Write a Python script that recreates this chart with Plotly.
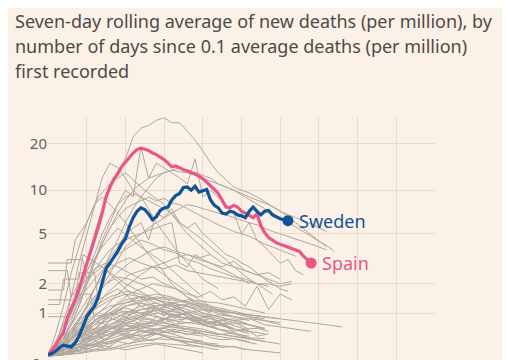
import math
import plotly.graph_objects as go

# ---------------- data (values in deaths per million, 7-day avg) ----------------
# Highlighted countries: one value per day since 0.1 deaths/million first recorded
spain = [0.12, 0.2, 0.28, 0.4, 0.52, 0.87, 1.1, 1.4, 1.8, 2.3, 3.0, 3.7, 4.6, 5.6, 7.0,
         9.0, 10.5, 11.8, 12.8, 14.2, 15.2, 16.3, 17.4, 18.3, 18.7, 18.4, 18.1, 17.4, 17.0,
         16.4, 15.8, 15.0, 14.2, 14.4, 13.9, 13.6, 13.4, 13.0, 12.8, 12.4, 11.9, 11.3, 10.6,
         10.1, 9.5, 8.6, 7.7, 7.6, 7.9, 7.7, 7.2, 7.0, 6.7, 6.5, 6.9, 5.7, 5.1, 4.7, 4.5,
         4.3, 4.2, 4.1, 4.0, 3.9, 3.8, 3.7, 3.4, 3.2, 3.0]
sweden = [0.12, 0.14, 0.18, 0.24, 0.28, 0.27, 0.25, 0.32, 0.45, 0.65, 0.9, 1.05, 1.2, 1.5,
          2.0, 2.7, 3.0, 3.3, 3.7, 4.2, 4.6, 5.6, 6.5, 7.2, 7.6, 7.4, 6.9, 6.3, 6.6, 7.3,
          7.6, 7.7, 8.6, 9.2, 9.5, 10.4, 10.5, 10.0, 10.6, 9.7, 9.9, 10.1, 8.6, 7.9, 7.6,
          7.0, 6.9, 7.2, 7.1, 6.8, 6.7, 6.5, 7.2, 7.7, 7.2, 6.8, 7.2, 7.3, 6.8, 6.6, 6.4,
          6.3, 6.2]

# Other countries, sampled every 2 days
g_a = [0.1, 0.3, 0.6, 1.0, 1.8, 3, 5, 7.5, 10, 13, 16, 22, 25, 26, 28, 29, 27, 27, 24, 21,
       18, 15, 13, 11.6, 10.5, 10, 9.6, 9, 8.4, 7.7, 7.2, 6.6, 6.0, 5.4, 4.9, 4.4, 4.0]
g_b = [0.1, 0.2, 0.4, 0.7, 1.2, 2, 3, 4.5, 6, 8, 10, 9, 19, 12, 15, 14, 13, 12, 11, 16, 9,
       10, 9, 8, 7, 5, 6, 4.5, 4, 3.5, 3, 3.2, 2.6, 2.4]
g_c = [0.1, 0.2, 0.4, 0.7, 1.2, 2, 3, 4.2, 5.5, 7, 8.5, 10, 11, 12, 12.5, 13, 13.5, 13.2,
       13, 12.5, 12, 11.5, 11, 10.5, 10, 9.3, 8.7, 8, 7.5, 7, 6.5, 6.1, 5.6, 5.2, 4.8, 4.4,
       4.1, 3.7]
g_d = [0.1, 0.15, 0.3, 0.5, 0.8, 1.2, 1.8, 2.5, 3.5, 4.5, 6, 7.5, 9, 10.5, 12, 13, 13.5, 14,
       13.5, 13, 12.5, 12, 11, 10.5, 10, 9.5, 9, 8.6, 8.2, 7.8, 7.2, 6.8, 6.5, 6.2, 5.9, 5.5,
       5.2]
g_e = [0.1, 0.3, 0.6, 1.0, 1.6, 2.5, 3.5, 5, 6.5, 8, 9, 9.5, 9, 8.5, 8, 7.5, 7, 6, 5.5, 5,
       4.5, 4, 3.6, 3.2, 2.8, 2.5, 2.2, 2, 1.8, 1.6]
g_f = [0.1, 0.2, 0.3, 0.5, 0.8, 1.2, 1.8, 2.5, 3.3, 4, 5, 5.5, 6, 4.5, 7, 6.5, 7.5, 6, 5.5,
       6, 5, 4.5, 4, 3.5, 3.3, 3, 2.8, 2.5, 2.2, 2, 1.8, 1.7]
g_g = [0.1, 0.3, 0.6, 1, 1.5, 2, 2.6, 3.2, 3.8, 4.2, 4.5, 4.8, 5, 5.3, 5.5, 5.8, 6, 3, 2.8,
       3.5, 3.2, 3, 2.8, 2.6, 2.4, 2.2, 2]
g_h = [0.1, 0.5, 1.2, 2.5, 4, 6, 8, 9, 8, 7, 6, 5, 4.2, 3.5, 3, 2.5, 2, 1.7, 1.5, 1.3, 1.1,
       1.0]
g_i = [0.1, 0.3, 0.8, 1.5, 3, 5, 8, 12, 15, 14, 12, 10, 9, 7.5, 6, 5, 4.2, 3.5, 3, 2.6, 2.2,
       2, 1.8]
g_j = [0.1, 0.2, 0.4, 0.8, 1.4, 2.2, 3.2, 4.2, 5.5, 6.5, 7.5, 8, 8.5, 9, 8.5, 8.8, 8.2, 8,
       7.5, 7, 6.6, 6.2, 5.8, 5.5, 5.2, 5, 4.8, 4.5, 4.2, 4, 3.8, 3.6, 3.4]
g_k = [0.1, 0.2, 0.3, 0.5, 0.7, 1, 1.4, 1.9, 2.5, 3.2, 4, 4.5, 5, 5.5, 6, 6.5, 7, 7.5, 8,
       7.8, 7.5, 7.2, 7, 6.8, 6.5, 6.2, 6, 5.8, 5.5, 5.2, 5, 4.8, 4.6, 4.4, 4.2, 4.0, 3.8]

# Other countries, sampled every 3 days
m_1 = [0.1, 0.2, 0.4, 0.7, 1.1, 1.6, 2.0, 2.4, 2.6, 2.8, 2.7, 2.9, 2.6, 2.5, 2.4, 2.3, 2.2,
       2.1, 2.0, 2.0, 1.9, 2.0]
m_2 = [0.1, 0.3, 0.7, 1.2, 1.8, 2.5, 3.0, 3.3, 3.0, 2.8, 2.4, 2.0, 1.7, 1.4, 1.2, 1.0, 0.9]
m_3 = [0.1, 0.2, 0.3, 0.5, 0.8, 1.0, 1.3, 1.6, 1.8, 2.0, 1.9, 1.8, 1.6, 1.5, 1.7, 1.4, 1.5,
       1.2, 1.9, 1.1, 1.6, 1.4]
m_4 = [0.1, 0.4, 0.9, 1.6, 2.2, 2.8, 3.5, 4.0, 4.5, 4.2, 3.8, 3.6, 3.2, 3.0, 2.7, 2.5, 2.3,
       2.2, 2.0, 1.9]
m_5 = [0.1, 0.2, 0.5, 1.0, 1.5, 2.0, 2.3, 2.2, 2.0, 1.8, 1.5, 1.2, 1.0, 0.8]
m_6 = [0.1, 0.5, 1.2, 2.0, 2.7, 3.0, 2.8, 2.5, 2.2, 2.3, 2.0, 1.8, 1.5, 1.3, 1.2]
m_7 = [0.1, 0.2, 0.4, 0.6, 0.9, 1.2, 1.6, 2, 2.4, 2.8, 3, 3.3, 3.5, 3.2, 3, 2.8, 3.1, 2.6,
       2.4, 2.2, 2.0, 2.1]
m_8 = [0.1, 0.3, 0.6, 1, 1.5, 2, 2.5, 3, 3.4, 3.8, 4, 3.7, 3.5, 3.3, 3.5, 3.0, 2.8, 2.6,
       2.4, 2.5, 2.2]
m_9 = [0.1, 0.16, 0.3, 0.25, 0.45, 0.38, 0.6, 0.52, 0.75, 0.66, 0.85, 0.7, 0.9, 0.78, 0.65,
       0.72, 0.55, 0.6, 0.45, 0.5]
m_10 = [0.1, 0.3, 0.22, 0.5, 0.42, 0.7, 0.58, 0.95, 0.8, 1.1, 0.92, 1.2, 1.0, 0.85, 0.9,
        0.7, 0.62]
m_11 = [0.1, 0.12, 0.2, 0.16, 0.28, 0.22, 0.35, 0.3, 0.42, 0.36, 0.45, 0.38, 0.32, 0.36,
        0.28, 0.24, 0.26, 0.2]
m_12 = [0.1, 0.25, 0.5, 0.42, 0.8, 0.7, 1.1, 0.95, 1.3, 1.15, 1.0, 1.1, 0.9, 0.8, 0.85, 0.7]
m_13 = [0.1, 0.18, 0.14, 0.3, 0.26, 0.4, 0.5, 0.44, 0.58, 0.5, 0.62, 0.55, 0.48, 0.52, 0.42,
        0.38, 0.4, 0.34, 0.3]
m_14 = [0.1, 0.2, 0.4, 0.65, 0.55, 0.9, 0.8, 1.05, 0.9, 1.2, 1.05, 0.95, 1.0, 0.85, 0.75,
        0.8, 0.68, 0.6, 0.62, 0.55]

# Other countries, sampled every 4 days
l_01 = [0.1, 0.2, 0.35, 0.5, 0.7, 0.9, 1.1, 1.2, 1.3, 1.2, 1.0, 0.9, 0.8, 0.7, 0.6]
l_02 = [0.1, 0.15, 0.25, 0.4, 0.6, 0.8, 0.9, 1.0, 0.95, 0.85, 0.7, 0.6, 0.5, 0.45]
l_03 = [0.1, 0.3, 0.5, 0.8, 1.1, 1.4, 1.5, 1.6, 1.5, 1.3, 1.2, 1.1, 1.0, 0.9, 0.8, 0.75]
l_04 = [0.1, 0.12, 0.18, 0.25, 0.35, 0.45, 0.55, 0.6, 0.65, 0.6, 0.55, 0.5, 0.45, 0.4]
l_05 = [0.1, 0.2, 0.3, 0.3, 0.4, 0.5, 0.45, 0.5, 0.4, 0.35, 0.3, 0.25]
l_06 = [0.1, 0.25, 0.45, 0.7, 0.8, 1.0, 1.2, 1.3, 1.1, 1.2, 1.0, 0.9, 0.8, 0.85, 0.7, 0.65,
        0.6, 0.55]
l_07 = [0.1, 0.15, 0.2, 0.3, 0.45, 0.6, 0.7, 0.75, 0.9, 1.0, 1.1, 1.05, 1.0, 0.9, 0.85]
l_08 = [0.1, 0.3, 0.6, 0.9, 1.0, 0.9, 0.7, 0.5, 0.4, 0.3, 0.25, 0.2]
l_09 = [0.1, 0.2, 0.4, 0.7, 1.0, 1.3, 1.5, 1.4, 1.2, 1.0, 0.8, 0.6, 0.5, 0.4, 0.35]
l_10 = [0.1, 0.12, 0.15, 0.2, 0.22, 0.3, 0.35, 0.4, 0.38, 0.35, 0.3, 0.28, 0.25, 0.2, 0.18,
        0.15]
l_11 = [0.1, 0.2, 0.35, 0.55, 0.7, 0.85, 0.95, 1.1, 1.2, 1.25, 1.15, 1.05, 1.0, 0.95, 0.9,
        0.85, 0.8, 0.75, 0.7, 0.65]
l_12 = [0.1, 0.3, 0.7, 1.1, 1.4, 1.6, 1.5, 1.3, 1.1, 0.9, 0.7, 0.6]
l_13 = [0.1, 0.15, 0.3, 0.5, 0.65, 0.6, 0.55, 0.5, 0.6, 0.55, 0.5, 0.45, 0.4, 0.35]
l_14 = [0.1, 0.2, 0.25, 0.3, 0.35, 0.4, 0.5, 0.6, 0.7, 0.75, 0.8, 0.7, 0.6, 0.55, 0.5]
l_15 = [0.1, 0.25, 0.5, 0.75, 0.95, 1.05, 1.0, 0.9, 0.8, 0.75, 0.7, 0.6, 0.55]
l_16 = [0.1, 0.15, 0.2, 0.3, 0.25, 0.2, 0.25, 0.3, 0.25, 0.2, 0.15]
l_17 = [0.1, 0.35, 0.8, 1.2, 1.5, 1.7, 1.6, 1.4, 1.3, 1.2, 1.1, 1.0, 0.9, 0.8]
l_18 = [0.1, 0.2, 0.3, 0.45, 0.6, 0.75, 0.85, 0.8, 0.7, 0.65, 0.6, 0.5, 0.45, 0.4, 0.35, 0.3]
l_19 = [0.1, 0.12, 0.2, 0.35, 0.5, 0.7, 0.9, 1.1, 1.3, 1.4, 1.35, 1.3, 1.2, 1.1, 1.0]
l_20 = [0.1, 0.4, 0.6, 0.5, 0.6, 0.7, 0.65, 0.6, 0.5, 0.4, 0.35]
l_21 = [0.1, 0.2, 0.4, 0.6, 0.9, 1.2, 1.3, 1.2, 1.25, 1.1, 0.95, 0.85, 0.75, 0.7, 0.6]
l_22 = [0.1, 0.15, 0.25, 0.4, 0.5, 0.55, 0.6, 0.7, 0.8, 0.85, 0.9, 0.95, 0.9, 0.85, 0.8, 0.7]
l_23 = [0.1, 0.3, 0.5, 0.6, 0.7, 0.8, 0.9, 0.8, 0.7, 0.6, 0.5]
l_24 = [0.1, 0.2, 0.3, 0.5, 0.8, 1.0, 1.1, 1.15, 1.05, 0.95, 0.8, 0.75, 0.7]
l_25 = [0.1, 0.12, 0.14, 0.18, 0.2, 0.25, 0.3, 0.32, 0.3, 0.28, 0.25]
l_26 = [0.1, 0.3, 0.55, 0.8, 1.0, 1.2, 1.35, 1.45, 1.4, 1.3, 1.2, 1.1, 1.0, 0.95, 0.9, 0.85]
l_27 = [0.1, 0.2, 0.4, 0.55, 0.65, 0.75, 0.7, 0.8, 0.9, 0.85, 0.75, 0.7, 0.6, 0.55]
l_28 = [0.1, 0.25, 0.35, 0.45, 0.55, 0.5, 0.45, 0.5, 0.55, 0.5, 0.45]
l_29 = [0.1, 0.2, 0.3, 0.4, 0.5, 0.6, 0.65, 0.7, 0.65, 0.6]
l_30 = [0.1, 0.35, 0.65, 0.95, 1.2, 1.3, 1.4, 1.5, 1.45, 1.35, 1.25, 1.15, 1.05, 0.95, 0.9]
l_31 = [0.1, 0.18, 0.42, 0.38, 0.62, 0.55, 0.8, 0.72, 0.95, 0.85, 0.7, 0.78, 0.6, 0.5]
l_32 = [0.1, 0.22, 0.3, 0.52, 0.45, 0.68, 0.6, 0.9, 0.82, 1.05, 0.9, 0.8, 0.85, 0.7, 0.62]
l_33 = [0.1, 0.28, 0.2, 0.35, 0.3, 0.42, 0.36, 0.5, 0.44, 0.4, 0.33, 0.3]
l_34 = [0.1, 0.4, 0.75, 0.6, 0.95, 1.15, 1.0, 1.1, 0.9, 1.0, 0.8, 0.7, 0.75, 0.6]
l_35 = [0.1, 0.14, 0.24, 0.2, 0.32, 0.45, 0.4, 0.58, 0.5, 0.62, 0.55, 0.48, 0.52, 0.42, 0.4]

# Small countries with stepped series: (days, values)
s1_days = [0, 6, 7, 10, 13, 16, 20, 25, 30, 36, 42]
s1_vals = [3.0, 3.0, 4.5, 6, 9, 11, 13, 10, 8, 5, 3.5]
s2_days = [0, 5, 6, 10, 14, 18, 24, 30, 36, 40]
s2_vals = [2.6, 2.6, 1.5, 2.6, 4, 5.5, 4, 3, 2, 1.5]
s3_days = [0, 4, 5, 9, 10, 14, 20, 26, 32]
s3_vals = [1.75, 1.75, 3.2, 3.2, 2.2, 2.8, 1.8, 1.3, 0.9]
s4_days = [0, 7, 8, 12, 13, 18, 24, 30]
s4_vals = [1.4, 1.4, 2.5, 2.5, 1.4, 1.8, 1.2, 0.8]
s5_days = [0, 3, 4, 8, 9, 14, 20, 28, 36]
s5_vals = [1.25, 1.25, 2.2, 2.2, 3.5, 2.8, 2.0, 1.4, 1.0]
s6_days = [0, 5, 6, 11, 12, 16, 22]
s6_vals = [0.9, 0.9, 1.6, 1.6, 0.8, 1.0, 0.6]

y_tick_values = [0, 1, 2, 5, 10, 20]
y_tick_labels = ["0", "1", "2", "5", "10", "20"]
x_grid_days = [10, 20, 30, 40, 50, 60, 70, 80, 90]

title_lines = ["Seven-day rolling average of new deaths (per million), by",
               "number of days since 0.1 average deaths (per million)",
               "first recorded"]

# ---------------- styling ----------------
BG = "#fcf1e6"
GRID = "#e8dcd1"
GREY = "#b0a79f"
PINK = "#e9578a"
BLUE = "#0f5499"
TEXT = "#66605c"
FONT = "Noto Sans"

# the page body adds an 8px offset, so the figure is laid out 8px up/left
ML, MT, PW, PH = 40, 109, 387, 243

OFFSET = 1  # log(v + 1) axis so that zero can be shown


def shifted(vals):
    return [v + OFFSET for v in vals]


fig = go.Figure()


def add_grey(days, vals):
    fig.add_trace(go.Scatter(x=days, y=shifted(vals), mode="lines",
                             line=dict(color=GREY, width=1), hoverinfo="skip"))


low_lines = [l_01, l_02, l_03, l_04, l_05, l_06, l_07, l_08, l_09, l_10, l_11, l_12, l_13,
             l_14, l_15, l_16, l_17, l_18, l_19, l_20, l_21, l_22, l_23, l_24, l_25, l_26,
             l_27, l_28, l_29, l_30, l_31, l_32, l_33, l_34, l_35]
mid_lines = [m_1, m_2, m_3, m_4, m_5, m_6, m_7, m_8, m_9, m_10, m_11, m_12, m_13, m_14]
high_lines = [g_a, g_b, g_c, g_d, g_e, g_f, g_g, g_h, g_i, g_j, g_k]

for group, step in [(low_lines, 4), (mid_lines, 3), (high_lines, 2)]:
    for series in group:
        add_grey([i * step for i in range(len(series))], series)

for d, v in [(s1_days, s1_vals), (s2_days, s2_vals), (s3_days, s3_vals),
             (s4_days, s4_vals), (s5_days, s5_vals), (s6_days, s6_vals)]:
    add_grey(d, v)

for name, vals, col in [("Spain", spain, PINK), ("Sweden", sweden, BLUE)]:
    days = list(range(len(vals)))
    fig.add_trace(go.Scatter(x=days, y=shifted(vals), mode="lines",
                             line=dict(color=col, width=3.2), hoverinfo="skip"))
    fig.add_trace(go.Scatter(x=[days[-1]], y=[vals[-1] + OFFSET], mode="markers",
                             marker=dict(color=col, size=11), hoverinfo="skip"))
    fig.add_annotation(x=days[-1], y=math.log10(vals[-1] + OFFSET), text=name,
                       showarrow=False, xanchor="left", yanchor="middle", xshift=9,
                       font=dict(family=FONT, size=18, color=col))

# "0" tick label sits just below the visible plot area
fig.add_annotation(xref="paper", yref="paper", x=0, y=-3 / PH, text="0", showarrow=False,
                   xanchor="right", yanchor="middle", xshift=-5,
                   font=dict(family=FONT, size=15, color=TEXT))

# Title, one annotation per line (25px line spacing)
for i, line in enumerate(title_lines):
    top_px = -1 + 25 * i
    fig.add_annotation(xref="paper", yref="paper", x=(5 - ML) / PW,
                       y=(MT + PH - top_px) / PH, text=line, showarrow=False,
                       align="left", xanchor="left", yanchor="top",
                       font=dict(family=FONT, size=18, color="#4f4946"))

fig.update_layout(
    width=510, height=360,
    margin=dict(l=ML, r=510 - ML - PW, t=MT, b=360 - MT - PH, autoexpand=False),
    paper_bgcolor=BG, plot_bgcolor=BG,
    showlegend=False,
    xaxis=dict(range=[0, 100], tickvals=x_grid_days, showticklabels=False,
               showgrid=True, gridcolor=GRID, gridwidth=1, zeroline=False,
               showline=False, ticks=""),
    yaxis=dict(type="log", range=[0.018, 1.482],
               tickvals=[v + OFFSET for v in y_tick_values], ticktext=y_tick_labels,
               showgrid=True, gridcolor=GRID, gridwidth=1, zeroline=False,
               showline=False, ticks="", tickfont=dict(family=FONT, size=15, color=TEXT)),
)

fig.write_html("out.html", config={"displayModeBar": False})
